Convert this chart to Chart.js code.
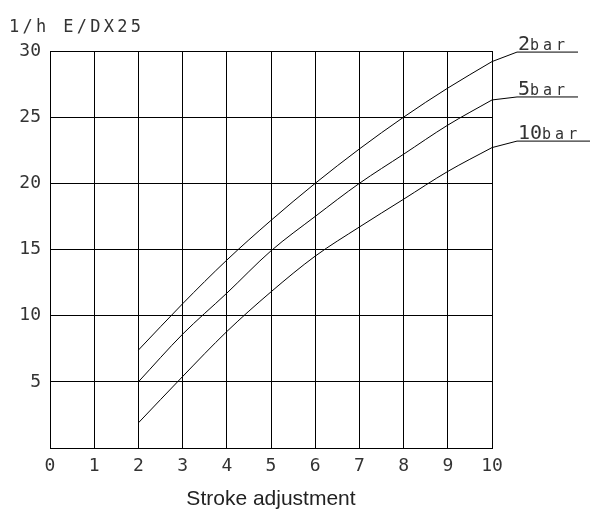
<!DOCTYPE html>
<html>
<head>
<meta charset="utf-8">
<script src="https://cdn.jsdelivr.net/npm/chart.js@4.4.0/dist/chart.umd.min.js"></script>
<style>
  html, body { margin: 0; padding: 0; background: #fff; }
</style>
</head>
<body>
<canvas id="chart" width="590" height="509"></canvas>
<script>
// values (stroke position -> flow in l/h)
const strokeSteps = [2, 3, 4, 5, 6, 7, 8, 9, 10];
const flow2bar = [7.4, 10.9, 14.2, 17.2, 20.0, 22.6, 25.0, 27.2, 29.2];
const flow5bar = [5.0, 8.6, 11.7, 14.9, 17.5, 20.0, 22.2, 24.4, 26.3];
const flow10bar = [1.9, 5.4, 8.8, 11.8, 14.5, 16.7, 18.8, 20.9, 22.7];
const seriesNames = ['2bar', '5bar', '10bar'];
const yAxisLabel = '1/h E/DX25';
const xAxisLabel = 'Stroke adjustment';

const monoFont = "'DejaVu Sans Mono', monospace";
const textColor = '#333';

// leader line + underlined label at the end of each curve
const leaderLabels = {
    id: 'leaderLabels',
    afterDatasetsDraw(chart, args, opts) {
        const ctx = chart.ctx;
        chart.data.datasets.forEach((ds, i) => {
            const meta = chart.getDatasetMeta(i);
            const last = meta.data[meta.data.length - 1];
            const o = opts.offsets[i];
            const kx = last.x + 25;
            const ky = last.y + o.dy;
            ctx.save();
            ctx.strokeStyle = '#000';
            ctx.lineWidth = 1;
            ctx.beginPath();
            ctx.moveTo(last.x, last.y);
            ctx.lineTo(kx, ky);
            ctx.lineTo(kx + o.len, ky);
            ctx.stroke();

            const digits = ds.label.replace('bar', '');
            ctx.fillStyle = textColor;
            ctx.textBaseline = 'alphabetic';
            ctx.font = '20px ' + monoFont;
            ctx.fillText(digits, kx + 1, ky - 2);
            const w = ctx.measureText(digits).width;
            ctx.font = '15px ' + monoFont;
            ctx.letterSpacing = '4px';
            ctx.fillText('bar', kx + 1 + w, ky - 2);
            ctx.restore();
        });
    }
};

// unit label top left
const topLabel = {
    id: 'topLabel',
    afterDraw(chart) {
        const ctx = chart.ctx;
        ctx.save();
        ctx.fillStyle = textColor;
        ctx.font = '17px ' + monoFont;
        ctx.letterSpacing = '3.3px';
        ctx.textBaseline = 'alphabetic';
        ctx.fillText(yAxisLabel, 9, 32);
        ctx.restore();
    }
};

const toPoints = (vals) => strokeSteps.map((x, i) => ({ x: x, y: vals[i] }));

const ctx = document.getElementById('chart').getContext('2d');
const chart = new Chart(ctx, {
    type: 'line',
    data: {
        datasets: [
            { label: seriesNames[0], data: toPoints(flow2bar) },
            { label: seriesNames[1], data: toPoints(flow5bar) },
            { label: seriesNames[2], data: toPoints(flow10bar) },
        ],
    },
    options: {
        responsive: false,
        animation: false,
        devicePixelRatio: 1,
        layout: { padding: { top: 51, right: 98, left: 0, bottom: 0 } },
        elements: {
            line: { borderColor: '#000', borderWidth: 1, cubicInterpolationMode: 'monotone', fill: false },
            point: { radius: 0 },
        },
        plugins: {
            legend: { display: false },
            tooltip: { enabled: false },
            leaderLabels: {
                offsets: [
                    { dy: -9.5, len: 61 },
                    { dy: -3, len: 61 },
                    { dy: -6.5, len: 73 },
                ],
            },
        },
        scales: {
            x: {
                type: 'linear',
                min: 0,
                max: 10,
                ticks: { stepSize: 1, color: textColor, padding: 8, font: { family: monoFont, size: 18 } },
                grid: { color: '#000', drawTicks: false },
                border: { color: '#000' },
                title: {
                    display: true,
                    text: xAxisLabel,
                    color: '#222',
                    padding: { top: 8, bottom: -1 },
                    font: { family: "'Liberation Sans', Arial, sans-serif", size: 21, lineHeight: 1 },
                },
                afterFit(scale) { scale.height = 61; },
            },
            y: {
                min: 0,
                max: 30,
                ticks: {
                    stepSize: 5,
                    color: textColor,
                    padding: 9,
                    font: { family: monoFont, size: 18 },
                    callback: (v) => (v === 0 ? '' : v),
                },
                grid: { color: '#000', drawTicks: false },
                border: { color: '#000' },
                afterFit(scale) { scale.width = 50; },
            },
        },
    },
    plugins: [leaderLabels, topLabel],
});
</script>
</body>
</html>
